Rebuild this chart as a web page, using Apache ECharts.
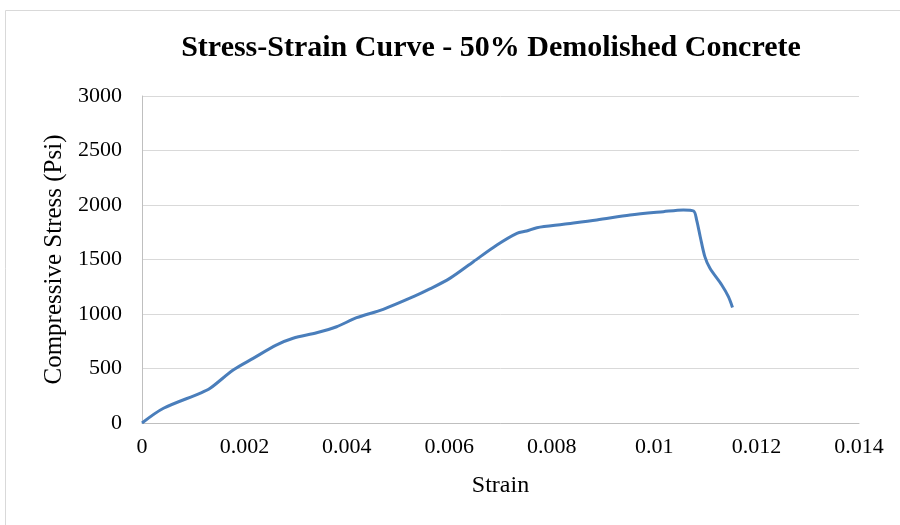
<!DOCTYPE html>
<html>
<head>
<meta charset="utf-8">
<script src="https://cdn.jsdelivr.net/npm/echarts@6/dist/echarts.min.js"></script>
<style>
  html, body { margin: 0; padding: 0; background: #fff; }
  #chart { width: 900px; height: 525px; }
</style>
</head>
<body>
<div id="chart"></div>
<script>
// Stress-strain test readings for the 50% demolished-aggregate mix
const strain = [0, 0.00042, 0.00113, 0.00133, 0.00178, 0.00217, 0.00263, 0.00295, 0.00341, 0.0038,
  0.00419, 0.00471, 0.0053, 0.00562, 0.00601, 0.00647, 0.00693, 0.00732, 0.00751, 0.00771,
  0.00823, 0.00888, 0.00953, 0.01018, 0.01057, 0.01077, 0.01083, 0.0109, 0.01099, 0.01109,
  0.01132, 0.01145, 0.01153];
const stress = [0, 135, 272, 318, 486, 593, 716, 777, 828, 883,
  966, 1043, 1159, 1230, 1327, 1480, 1633, 1740, 1761, 1792,
  1823, 1862, 1908, 1939, 1955, 1945, 1862, 1709, 1526, 1419,
  1266, 1159, 1060];
const xTicks = [0, 0.002, 0.004, 0.006, 0.008, 0.01, 0.012, 0.014];
const yTicks = [0, 500, 1000, 1500, 2000, 2500, 3000];

const serif = '"Liberation Serif", "Times New Roman", serif';
const chart = echarts.init(document.getElementById('chart'));

chart.setOption({
  animation: false,
  backgroundColor: '#fff',
  graphic: [{
    type: 'rect',
    shape: { x: 5.5, y: 10.5, width: 900, height: 520 },
    style: { fill: 'none', stroke: '#d9d9d9', lineWidth: 1 },
    silent: true
  }],
  title: {
    text: 'Stress-Strain Curve - 50% Demolished Concrete',
    left: 486, top: 28, textAlign: 'center',
    textStyle: { fontFamily: serif, fontWeight: 'bold', fontSize: 30, color: '#000' }
  },
  grid: { left: 142, right: 41, top: 96, bottom: 102 },
  xAxis: {
    type: 'value',
    min: xTicks[0], max: xTicks[xTicks.length - 1], interval: 0.002,
    name: 'Strain', nameLocation: 'middle', nameGap: 51,
    nameTextStyle: { fontFamily: serif, fontSize: 24, color: '#000' },
    axisLine: { show: true, lineStyle: { color: '#bfbfbf', width: 1 } },
    axisTick: { show: false },
    splitLine: { show: false },
    axisLabel: {
      fontFamily: serif, fontSize: 22, color: '#000', margin: 13,
      formatter: v => { const t = xTicks.find(k => Math.abs(k - v) < 1e-9); return t === undefined ? '' : String(t); }
    }
  },
  yAxis: {
    type: 'value',
    min: yTicks[0], max: yTicks[yTicks.length - 1], interval: 500,
    name: 'Compressive Stress (Psi)', nameLocation: 'middle', nameGap: 72,
    nameTextStyle: { fontFamily: serif, fontSize: 25, color: '#000' },
    axisLine: { show: true, lineStyle: { color: '#bfbfbf', width: 1 } },
    axisTick: { show: false },
    splitLine: { show: true, lineStyle: { color: '#d9d9d9', width: 1 } },
    axisLabel: {
      fontFamily: serif, fontSize: 22, color: '#000', margin: 20,
      formatter: v => String(v)
    }
  },
  series: [{
    type: 'line',
    data: strain.map((s, i) => [s, stress[i]]),
    smooth: 0.3,
    showSymbol: false,
    lineStyle: { color: '#4a7ebb', width: 3 },
    itemStyle: { color: '#4a7ebb' }
  }]
});
</script>
</body>
</html>
